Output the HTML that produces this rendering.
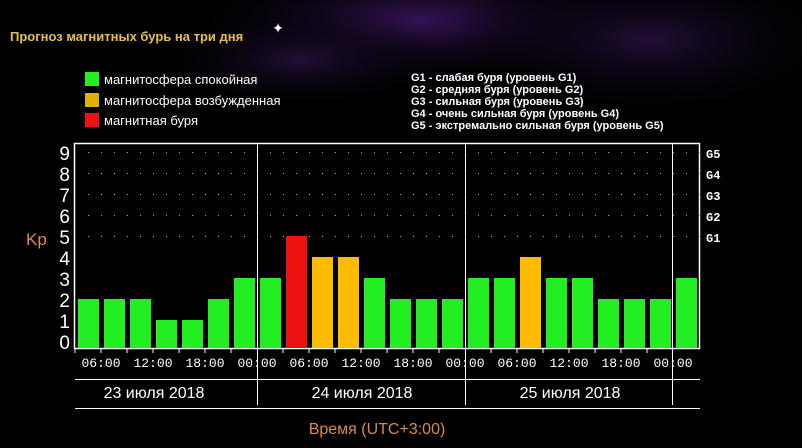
<!DOCTYPE html>
<html><head><meta charset="utf-8"><style>
body{margin:0;width:802px;height:448px;overflow:hidden;background:#000;font-family:"Liberation Sans","DejaVu Sans",sans-serif;}
</style></head><body>
<svg width="802" height="448" xmlns="http://www.w3.org/2000/svg" style="position:absolute;left:0;top:0">
<defs>
<radialGradient id="n1" cx="0.5" cy="0.5" r="0.5"><stop offset="0" stop-color="#3a1560" stop-opacity="0.9"/><stop offset="1" stop-color="#000" stop-opacity="0"/></radialGradient>
<radialGradient id="n2" cx="0.5" cy="0.5" r="0.5"><stop offset="0" stop-color="#25103d" stop-opacity="0.9"/><stop offset="1" stop-color="#000" stop-opacity="0"/></radialGradient>
</defs>
<rect width="802" height="448" fill="#000"/>
<ellipse cx="420" cy="20" rx="240" ry="70" fill="url(#n1)"/>
<ellipse cx="650" cy="40" rx="200" ry="80" fill="url(#n2)"/>
<ellipse cx="300" cy="60" rx="150" ry="50" fill="url(#n2)"/>
<text x="278" y="33" fill="#fff" font-size="14" text-anchor="middle">✦</text>
<text x="10" y="41" fill="#e8c040" font-size="13" font-weight="bold">Прогноз магнитных бурь на три дня</text>
<rect x="85" y="72" width="14" height="14" fill="#22ee22"/>
<rect x="85" y="93" width="14" height="14" fill="#e0b000"/>
<rect x="85" y="113" width="14" height="14" fill="#ee1111"/>
<g fill="#fff" font-size="13"><text x="104" y="84">магнитосфера спокойная</text><text x="104" y="105">магнитосфера возбужденная</text><text x="104" y="125">магнитная буря</text></g>
<g fill="#fff" font-size="11" font-weight="bold"><text x="411" y="81">G1 - слабая буря (уровень G1)</text><text x="411" y="93">G2 - средняя буря (уровень G2)</text><text x="411" y="105">G3 - сильная буря (уровень G3)</text><text x="411" y="117">G4 - очень сильная буря (уровень G4)</text><text x="411" y="129">G5 - экстремально сильная буря (уровень G5)</text></g>
<g fill="none" stroke="#fff" stroke-width="1.5"><rect x="74.5" y="143.5" width="625" height="205"/></g>
<g stroke="#fff" stroke-width="1"><line x1="257.5" y1="143" x2="257.5" y2="405"/><line x1="465.5" y1="143" x2="465.5" y2="405"/><line x1="672.5" y1="143" x2="672.5" y2="405"/></g>
<g stroke="#aaa" stroke-width="1" stroke-dasharray="1,12">
<line x1="88" y1="152.5" x2="700" y2="152.5"/><line x1="88" y1="173.5" x2="700" y2="173.5"/><line x1="88" y1="194.5" x2="700" y2="194.5"/><line x1="88" y1="215.5" x2="700" y2="215.5"/><line x1="88" y1="236.5" x2="700" y2="236.5"/></g>
<g fill="#fff" font-size="19" text-anchor="end">
<text x="70" y="160">9</text><text x="70" y="181">8</text><text x="70" y="202">7</text><text x="70" y="223">6</text><text x="70" y="244">5</text><text x="70" y="265">4</text><text x="70" y="286">3</text><text x="70" y="307">2</text><text x="70" y="328">1</text><text x="70" y="349">0</text></g>
<text x="26" y="245" fill="#e08a40" font-size="17">Kp</text>
<g fill="#fff" font-size="12" font-weight="bold" font-family="Liberation Mono,monospace"><text x="706" y="158">G5</text><text x="706" y="179">G4</text><text x="706" y="200">G3</text><text x="706" y="221">G2</text><text x="706" y="242">G1</text></g>
<g id="bars">
<rect x="78" y="299" width="21" height="49" fill="#22ee22"/>
<rect x="104" y="299" width="21" height="49" fill="#22ee22"/>
<rect x="130" y="299" width="21" height="49" fill="#22ee22"/>
<rect x="156" y="320" width="21" height="28" fill="#22ee22"/>
<rect x="182" y="320" width="21" height="28" fill="#22ee22"/>
<rect x="208" y="299" width="21" height="49" fill="#22ee22"/>
<rect x="234" y="278" width="21" height="70" fill="#22ee22"/>
<rect x="260" y="278" width="21" height="70" fill="#22ee22"/>
<rect x="286" y="236" width="21" height="112" fill="#ee1111"/>
<rect x="312" y="257" width="21" height="91" fill="#ffbb00"/>
<rect x="338" y="257" width="21" height="91" fill="#ffbb00"/>
<rect x="364" y="278" width="21" height="70" fill="#22ee22"/>
<rect x="390" y="299" width="21" height="49" fill="#22ee22"/>
<rect x="416" y="299" width="21" height="49" fill="#22ee22"/>
<rect x="442" y="299" width="21" height="49" fill="#22ee22"/>
<rect x="468" y="278" width="21" height="70" fill="#22ee22"/>
<rect x="494" y="278" width="21" height="70" fill="#22ee22"/>
<rect x="520" y="257" width="21" height="91" fill="#ffbb00"/>
<rect x="546" y="278" width="21" height="70" fill="#22ee22"/>
<rect x="572" y="278" width="21" height="70" fill="#22ee22"/>
<rect x="598" y="299" width="21" height="49" fill="#22ee22"/>
<rect x="624" y="299" width="21" height="49" fill="#22ee22"/>
<rect x="650" y="299" width="21" height="49" fill="#22ee22"/>
<rect x="676" y="278" width="21" height="70" fill="#22ee22"/>
</g>
<g stroke="#fff" stroke-width="1">
<line x1="75" y1="349" x2="75" y2="353"/><line x1="101" y1="349" x2="101" y2="353"/><line x1="127" y1="349" x2="127" y2="353"/><line x1="153" y1="349" x2="153" y2="353"/><line x1="179" y1="349" x2="179" y2="353"/><line x1="205" y1="349" x2="205" y2="353"/><line x1="231" y1="349" x2="231" y2="353"/><line x1="283" y1="349" x2="283" y2="353"/><line x1="309" y1="349" x2="309" y2="353"/><line x1="335" y1="349" x2="335" y2="353"/><line x1="361" y1="349" x2="361" y2="353"/><line x1="387" y1="349" x2="387" y2="353"/><line x1="413" y1="349" x2="413" y2="353"/><line x1="439" y1="349" x2="439" y2="353"/><line x1="491" y1="349" x2="491" y2="353"/><line x1="517" y1="349" x2="517" y2="353"/><line x1="543" y1="349" x2="543" y2="353"/><line x1="569" y1="349" x2="569" y2="353"/><line x1="595" y1="349" x2="595" y2="353"/><line x1="621" y1="349" x2="621" y2="353"/><line x1="647" y1="349" x2="647" y2="353"/>
<line x1="75" y1="379.5" x2="700" y2="379.5"/><line x1="75" y1="408.5" x2="700" y2="408.5"/></g>
<g fill="#fff" font-size="13" font-family="Liberation Mono,monospace" text-anchor="middle">
<text x="101" y="367">06:00</text><text x="153" y="367">12:00</text><text x="205" y="367">18:00</text><text x="257" y="367">00:00</text>
<text x="309" y="367">06:00</text><text x="361" y="367">12:00</text><text x="413" y="367">18:00</text><text x="465" y="367">00:00</text>
<text x="517" y="367">06:00</text><text x="569" y="367">12:00</text><text x="621" y="367">18:00</text><text x="673" y="367">00:00</text></g>
<g fill="#fff" font-size="16" text-anchor="middle"><text x="154" y="398">23 июля 2018</text><text x="362" y="398">24 июля 2018</text><text x="570" y="398">25 июля 2018</text></g>
<text x="377" y="434" fill="#e08a40" font-size="16" text-anchor="middle">Время (UTC+3:00)</text>
</svg>
</body></html>
